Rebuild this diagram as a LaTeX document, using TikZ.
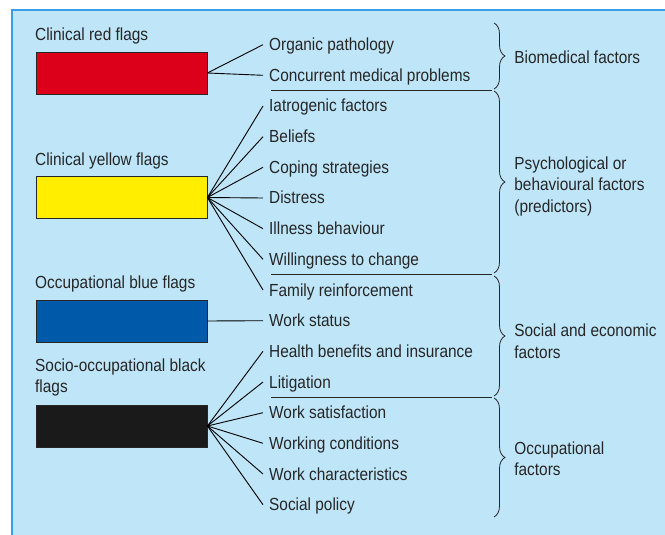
\documentclass[tikz,border=0pt]{standalone}
\usepackage{fontspec}
\setmainfont{Liberation Sans}[FakeStretch=0.88]
\usetikzlibrary{decorations.pathreplacing}
\definecolor{panelfill}{HTML}{BEE5F8}
\definecolor{panelline}{HTML}{3A9DE6}
\definecolor{flagred}{HTML}{DC001A}
\definecolor{flagyellow}{HTML}{FFEE00}
\definecolor{flagblue}{HTML}{005AAA}
\definecolor{flagblack}{HTML}{1A1A1A}
\definecolor{ink}{HTML}{262626}

\begin{document}
\begin{tikzpicture}[x=1pt, y=-1pt,
    flagbox/.style={draw=black!85, line width=0.8pt, minimum width=171pt, minimum height=42pt, inner sep=0pt},
    flagname/.style={anchor=base west, inner sep=0pt, align=left, text=ink, font=\fontsize{17.5}{20.7}\selectfont},
    factor/.style={anchor=west, inner xsep=6pt, inner ysep=0pt, text height=14pt, text depth=2pt, text=ink, font=\fontsize{17.5}{21}\selectfont},
    group/.style={anchor=west, align=left, inner sep=0pt, text=ink, font=\fontsize{17.5}{21.5}\selectfont},
    link/.style={line width=0.9pt},
    divider/.style={line width=0.9pt, draw=ink},
    bracegroup/.style={decorate, decoration={brace, amplitude=11pt}, line width=0.8pt, draw=ink}
]
            \useasboundingbox (0,0) rectangle (665,535);
            \fill[panelfill] (12,10) rectangle (665,535);
            \draw[panelline, line width=1.2pt] (12,535) -- (12,10) -- (665,10);

            % flags
            \draw
            (35, 40.7) node[flagname](redname) {Clinical red flags}
            (121.5, 73) node[flagbox, fill=flagred](red) {}
            (35, 165) node[flagname](yellowname) {Clinical yellow flags}
            (121.5, 197.5) node[flagbox, fill=flagyellow](yellow) {}
            (35, 288.3) node[flagname](bluename) {Occupational blue flags}
            (121.5, 321) node[flagbox, fill=flagblue](blue) {}
            (35, 392.4) node[flagname](blackname) {Socio-occupational black\\flags}
            (121.5, 426) node[flagbox, fill=flagblack](black) {};

            % factors
            \draw
            (263, 44.7) node[factor](op) {Organic pathology}
            (263, 75.3) node[factor](cmp) {Concurrent medical problems}
            (263, 106) node[factor](iat) {Iatrogenic factors}
            (263, 136.7) node[factor](bel) {Beliefs}
            (263, 167.3) node[factor](cop) {Coping strategies}
            (263, 198) node[factor](dis) {Distress}
            (263, 228.7) node[factor](ill) {Illness behaviour}
            (263, 259.3) node[factor](wil) {Willingness to change}
            (263, 290) node[factor](fam) {Family reinforcement}
            (263, 320.7) node[factor](wst) {Work status}
            (263, 351.3) node[factor](hbi) {Health benefits and insurance}
            (263, 382) node[factor](lit) {Litigation}
            (263, 412.7) node[factor](wsa) {Work satisfaction}
            (263, 443.3) node[factor](wco) {Working conditions}
            (263, 474) node[factor](wch) {Work characteristics}
            (263, 504.7) node[factor](spo) {Social policy};

            \draw[link] (red.east) -- (op.west);
            \draw[link] (red.east) -- (cmp.west);
            \draw[link] (yellow.east) -- (iat.west);
            \draw[link] (yellow.east) -- (bel.west);
            \draw[link] (yellow.east) -- (cop.west);
            \draw[link] (yellow.east) -- (dis.west);
            \draw[link] (yellow.east) -- (ill.west);
            \draw[link] (yellow.east) -- (wil.west);
            \draw[link] (yellow.east) -- (fam.west);
            \draw[link] (blue.east) -- (wst.west);
            \draw[link] (black.east) -- (hbi.west);
            \draw[link] (black.east) -- (lit.west);
            \draw[link] (black.east) -- (wsa.west);
            \draw[link] (black.east) -- (wco.west);
            \draw[link] (black.east) -- (wch.west);
            \draw[link] (black.east) -- (spo.west);

            % dividers
            \draw[divider] (271, 90) -- (492, 90);
            \draw[divider] (271, 274.5) -- (492, 274.5);
            \draw[divider] (271, 397) -- (492, 397);

            % groups
            \draw[bracegroup] (494, 23) -- (494, 89)
                node[group, midway, xshift=20pt, yshift=-1pt](biomed) {Biomedical factors};
            \draw[bracegroup] (494, 91) -- (494, 273)
                node[group, midway, xshift=20pt, yshift=-4pt](psych) {Psychological or\\behavioural factors\\(predictors)};
            \draw[bracegroup] (494, 276) -- (494, 396)
                node[group, midway, xshift=20pt, yshift=-5pt](social) {Social and economic\\factors};
            \draw[bracegroup] (494, 398) -- (494, 517)
                node[group, midway, xshift=20pt, yshift=-1pt](occup) {Occupational\\factors};
\end{tikzpicture}
\end{document}
